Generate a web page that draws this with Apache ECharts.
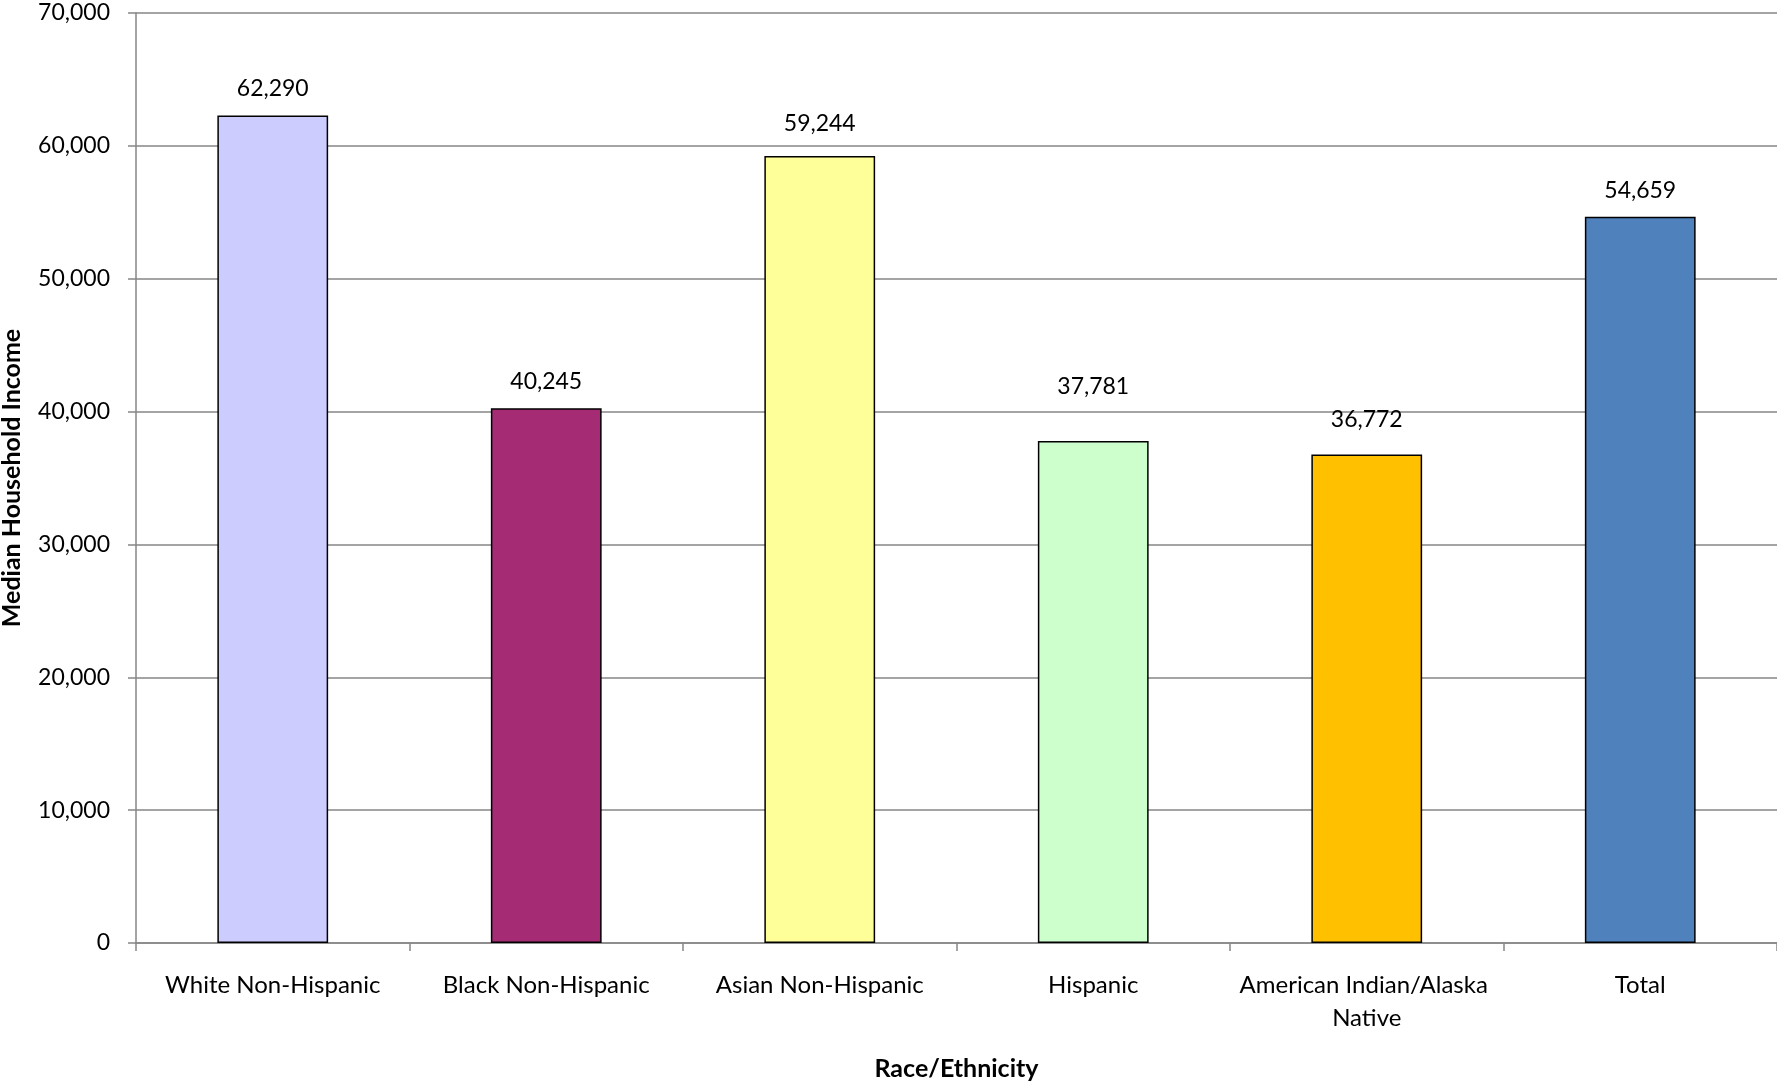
<!DOCTYPE html>
<html>
<head>
<meta charset="utf-8">
<script src="https://cdn.jsdelivr.net/npm/echarts@6/dist/echarts.min.js"></script>
<style>
html,body{margin:0;padding:0;background:#fff;overflow:hidden;}
#chart{width:1777px;height:1081px;}
</style>
</head>
<body>
<div id="chart"></div>
<script>
const categories = ['White Non-Hispanic', 'Black Non-Hispanic', 'Asian Non-Hispanic', 'Hispanic', 'American Indian/Alaska Native', 'Total'];
const values = [62290, 40245, 59244, 37781, 36772, 54659];
const barColors = ['#CCCCFF', '#A52C74', '#FFFF99', '#CCFFCC', '#FFC000', '#4F81BD'];
const yTicks = [0, 10000, 20000, 30000, 40000, 50000, 60000, 70000];
const xTitle = 'Race/Ethnicity';
const yTitle = 'Median Household Income';

const FONT = 'Lato';
const fmt = v => v.toLocaleString('en-US');
const labelDistance = [15, 15, 21, 43, 23, 15];

const chart = echarts.init(document.getElementById('chart'), null, {renderer: 'canvas'});
chart.setOption({
  animation: false,
  backgroundColor: '#ffffff',
  textStyle: {fontFamily: FONT},
  grid: {left: 136, right: 0, top: 13, bottom: 138, containLabel: false, outerBoundsMode: 'none'},
  xAxis: {
    type: 'category',
    data: categories,
    name: xTitle,
    nameLocation: 'middle',
    nameGap: 113,
    nameTextStyle: {fontFamily: FONT, fontSize: 25, fontWeight: 'bold', color: '#000'},
    axisLine: {show: true, lineStyle: {color: '#868686', width: 1.5}},
    axisTick: {show: true, alignWithLabel: false, length: 8, inside: false, lineStyle: {color: '#868686', width: 1.5}},
    axisLabel: {
      fontFamily: FONT, fontSize: 24, color: '#000', margin: 26, lineHeight: 33,
      interval: 0, width: 275, overflow: 'break'
    }
  },
  yAxis: {
    type: 'value',
    min: yTicks[0],
    max: yTicks[yTicks.length - 1],
    interval: yTicks[1] - yTicks[0],
    name: yTitle,
    nameLocation: 'middle',
    nameGap: 112,
    nameRotate: 90,
    nameTextStyle: {fontFamily: FONT, fontSize: 25, fontWeight: 'bold', color: '#000'},
    axisLine: {show: true, lineStyle: {color: '#868686', width: 1.5}},
    axisTick: {show: true, length: 8, inside: false, lineStyle: {color: '#868686', width: 1.5}},
    splitLine: {show: true, lineStyle: {color: '#868686', width: 1.5}},
    axisLabel: {fontFamily: FONT, fontSize: 23, color: '#000', margin: 26, formatter: v => fmt(v)}
  },
  series: [{
    type: 'bar',
    barWidth: '40.5%',
    data: values.map((v, i) => ({
      value: v,
      itemStyle: {color: barColors[i], borderColor: '#000', borderWidth: 1.5},
      label: {distance: labelDistance[i]}
    })),
    label: {
      show: true, position: 'top',
      fontFamily: FONT, fontSize: 23, color: '#000',
      formatter: p => fmt(p.value)
    }
  }]
});
</script>
</body>
</html>
